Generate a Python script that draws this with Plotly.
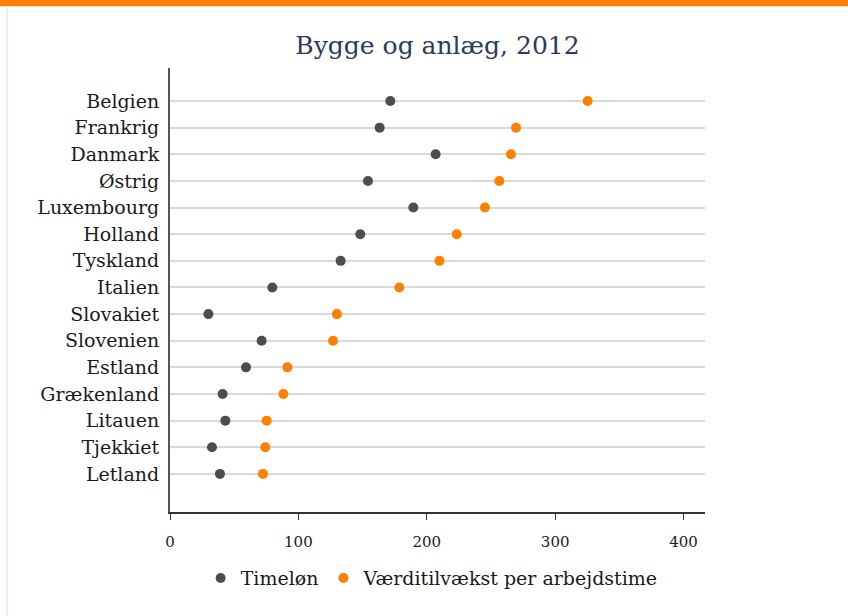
import plotly.graph_objects as go

# Data
countries = ['Belgien', 'Frankrig', 'Danmark', 'Østrig', 'Luxembourg', 'Holland',
             'Tyskland', 'Italien', 'Slovakiet', 'Slovenien', 'Estland',
             'Grækenland', 'Litauen', 'Tjekkiet', 'Letland']
timeloen = [171.6, 163.3, 206.9, 154.2, 189.5, 148.2, 132.9, 79.7, 29.9, 71.4,
            59.2, 41.0, 43.1, 32.7, 38.9]
vaerditilvaekst = [325.3, 269.5, 265.6, 256.5, 245.3, 223.3, 209.9, 178.6, 130.0,
                   127.0, 91.4, 88.3, 75.3, 74.2, 72.4]
x_ticks = [0, 100, 200, 300, 400]

SERIF = 'DejaVu Serif'
DARK = '#4d4d4d'
ORANGE = '#ff7f00'

fig = go.Figure()

fig.add_trace(go.Scatter(
    x=timeloen, y=countries, mode='markers', name='Timeløn',
    marker=dict(color=DARK, size=10)
))
fig.add_trace(go.Scatter(
    x=vaerditilvaekst, y=countries, mode='markers',
    name='Værditilvækst per arbejdstime',
    marker=dict(color=ORANGE, size=10)
))

# page decoration: orange strip on top, faint panel border on the left
fig.add_shape(type='rect', xref='paper', yref='paper',
              x0=-0.35, x1=1.3, y0=1.139, y1=1.17,
              fillcolor=ORANGE, line_width=0, layer='above')
fig.add_shape(type='line', xref='paper', yref='paper',
              x0=-0.305, x1=-0.305, y0=-0.25, y1=1.139,
              line=dict(color='#e6eef0', width=2))

fig.update_layout(
    width=848, height=616,
    margin=dict(l=170, r=143, t=68, b=104),
    paper_bgcolor='white', plot_bgcolor='white',
    font=dict(family=SERIF, size=19, color='#1a1a1a'),
    title=dict(text='Bygge og anlæg, 2012', x=0.5, xref='paper', xanchor='center',
               y=0.927, yanchor='middle',
               font=dict(family=SERIF, size=25, color='#2b3a5e')),
    showlegend=True,
    legend=dict(orientation='h', x=0.49, xanchor='center', y=-0.149, yanchor='middle',
                font=dict(family=SERIF, size=19, color='#1a1a1a'),
                itemwidth=30),
    xaxis=dict(range=[0, 416.7], tickvals=x_ticks, showgrid=False, zeroline=False,
               showline=True, linecolor='#333333', linewidth=1.5,
               ticks='outside', ticklen=6, tickcolor='#333333',
               ticklabelstandoff=9,
               tickfont=dict(family=SERIF, size=15, color='#1a1a1a')),
    yaxis=dict(categoryorder='array', categoryarray=countries,
               range=[15.43, -1.24], showgrid=True, gridcolor='#d9d9d9',
               gridwidth=1.5, zeroline=False, showline=True,
               linecolor='#555555', linewidth=2, ticks='',
               ticklabelstandoff=5,
               tickfont=dict(family=SERIF, size=19, color='#1a1a1a')),
)

# drop the default body margin so the figure sits at the page corner
fig.write_html("out.html", config={'displayModeBar': False},
               post_script="document.body.style.margin='0';")
